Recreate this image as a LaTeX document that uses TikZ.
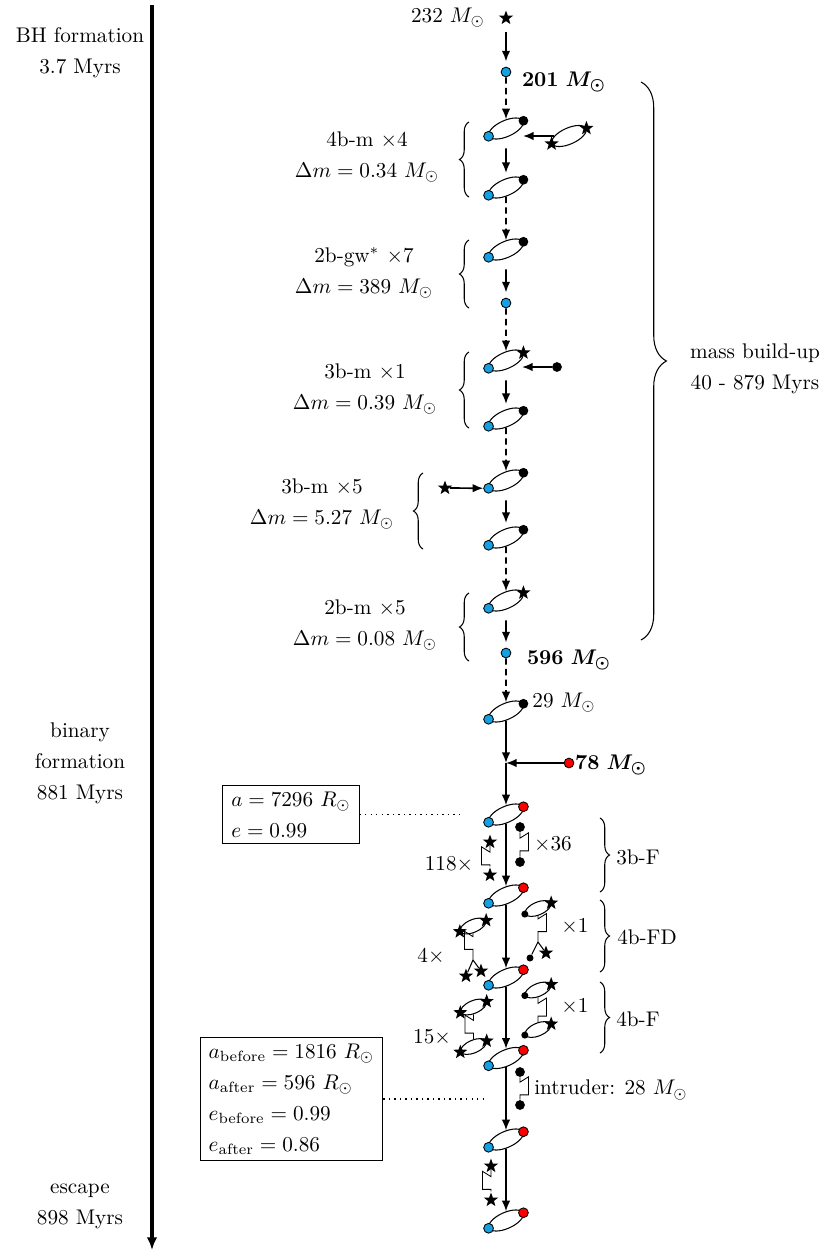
\documentclass[tikz,border=0pt]{standalone}
\usepackage{amsmath,amssymb}
\usetikzlibrary{arrows.meta,shapes.geometric,decorations.pathreplacing,calc}
\definecolor{bhblue}{RGB}{20,160,225}
\definecolor{mred}{RGB}{250,0,0}
\tikzset{
  lbl/.style={align=center, font=\fontsize{10}{14.6}\selectfont, inner sep=0pt},
  txt/.style={inner sep=0pt},
  bh/.style={circle, draw=black, line width=0.4pt, fill=bhblue, minimum size=4.6pt, inner sep=0pt},
  rd/.style={circle, draw=black, line width=0.4pt, fill=mred, minimum size=4.6pt, inner sep=0pt},
  bk/.style={circle, fill=black, minimum size=4.6pt, inner sep=0pt},
  sbk/.style={circle, fill=black, minimum size=3.3pt, inner sep=0pt},
  st/.style={star, star points=5, star point ratio=2.4, fill=black, minimum size=7pt, inner sep=0pt},
  ell/.style={ellipse, draw, line width=0.5pt, minimum width=17.5pt, minimum height=7.6pt, inner sep=0pt, rotate=24},
  sell/.style={ellipse, draw, line width=0.5pt, minimum width=13pt, minimum height=6pt, inner sep=0pt, rotate=23},
  pics/bin/.style 2 args={code={
     \node[ell] (-e) at (0,0) {};
     \node[#1] (-l) at (-e.west) {};
     \node[#2] (-r) at (-e.east) {};
  }},
  pics/sbin/.style 2 args={code={
     \node[sell] (-e) at (0,0) {};
     \node[#1] (-l) at (-e.west) {};
     \node[#2] (-r) at (-e.east) {};
  }},
  arr/.style={line width=0.8pt, -{Latex[length=5pt,width=4pt]}},
  sarr/.style={arr, shorten <=5pt, shorten >=2.5pt},
  darr/.style={arr, dash pattern=on 3pt off 2pt},
  lbrace/.style={decorate, decoration={brace, amplitude=4.5pt}, line width=0.5pt},
  bigbrace/.style={decorate, decoration={brace, amplitude=12pt}, line width=0.5pt},
  zig/.style={line width=0.5pt, to path={
     (\tikztostart) -- ($(\tikztostart)!0.5!(\tikztotarget)+(0pt,3pt)$)
     -- ++(#1,2.5pt) -- ++(0pt,-8.5pt) -- ++({-1*(#1)},0pt) -- (\tikztotarget)}},
  box/.style={draw, line width=0.5pt, align=left, font=\fontsize{10}{14.6}\selectfont, inner xsep=4pt, inner ysep=3pt},
}
\begin{document}
\begin{tikzpicture}[x=0.4717pt, y=-0.4717pt]
\useasboundingbox (0,0) rectangle (830,1253);

% timeline
\coordinate (tl0) at (152,5);
\coordinate (tl1) at (152,1250);
\draw[line width=1.5pt, -{Latex[length=6pt,width=5pt]}] (tl0) -- (tl1);
\node[lbl] (tBH) at (80,52.5) {BH formation\\3.7 Myrs};
\node[lbl] (tBF) at (80,763) {binary\\formation\\881 Myrs};
\node[lbl] (tES) at (80,1206) {escape\\898 Myrs};

% main column
\node[st] (S0) at (506,18) {};
\node[txt] (m232) at (448,18) {232 $M_\odot$};
\node[bh] (D1) at (506,72) {};
\node[txt] (m201) at (564,82) {$\mathbf{201}\ \boldsymbol{M_\odot}$};
\pic (B1) at (506,128.5) {bin={bh}{bk}};
\pic (IB) at (569,136) {bin={st}{st}};
\coordinate (t1) at (523,136);
\pic (B2) at (506,187.5) {bin={bh}{bk}};
\pic (B3) at (506,249.5) {bin={bh}{bk}};
\node[bh] (D2) at (506,303) {};
\pic (B4) at (506,360.5) {bin={bh}{st}};
\node[bk] (in4) at (557,367) {};
\coordinate (t4) at (522,367);
\pic (B5) at (506,418.5) {bin={bh}{bk}};
\pic (B6) at (506,480.5) {bin={bh}{bk}};
\node[st] (in6) at (445,488) {};
\pic (B7) at (506,537.5) {bin={bh}{bk}};
\pic (B8) at (506,600.5) {bin={bh}{st}};
\node[bh] (D3) at (506,653) {};
\node[txt] (m596) at (569,660) {$\mathbf{596}\ \boldsymbol{M_\odot}$};
\pic (B9) at (506,711.5) {bin={bh}{bk}};
\node[txt] (m29) at (564,703) {29 $M_\odot$};
\coordinate (J) at (506,763);
\node[rd] (R) at (569,763) {};
\node[txt] (m78) at (611,765) {$\mathbf{78}\ \boldsymbol{M_\odot}$};
\pic (B10) at (506,814.5) {bin={bh}{rd}};
\pic (B11) at (506,895.5) {bin={bh}{rd}};
\pic (B12) at (506,977.5) {bin={bh}{rd}};
\pic (B13) at (506,1058) {bin={bh}{rd}};
\pic (B14) at (506,1139.5) {bin={bh}{rd}};
\pic (B15) at (506,1220.5) {bin={bh}{rd}};

\draw[sarr] (S0) -- (D1);
\draw[darr] (D1) -- (B1-e);
\draw[sarr] (B1-e) -- (B2-e);
\draw[darr] (B2-e) -- (B3-e);
\draw[sarr] (B3-e) -- (D2);
\draw[darr] (D2) -- (B4-e);
\draw[sarr] (B4-e) -- (B5-e);
\draw[darr] (B5-e) -- (B6-e);
\draw[sarr] (B6-e) -- (B7-e);
\draw[darr] (B7-e) -- (B8-e);
\draw[sarr] (B8-e) -- (D3);
\draw[darr] (D3) -- (B9-e);
\draw[arr] (B9-e) -- (J);
\draw[arr] (R) -- (J);
\draw[arr] (J) -- (B10-e);
\draw[arr] (B10-e) -- (B11-e);
\draw[arr] (B11-e) -- (B12-e);
\draw[arr] (B12-e) -- (B13-e);
\draw[arr] (B13-e) -- (B14-e);
\draw[arr] (B14-e) -- (B15-e);
\draw[arr] (IB-e) -- (t1);
\draw[arr] (in4) -- (t4);
\draw[arr] (in6) -- (B6-l);

% left braces and labels
\node[lbl] (n1) at (367,157) {4b-m $\times 4$\\$\Delta m = 0.34\ M_\odot$};
\node[lbl] (n2) at (364,273) {2b-gw$^*$ $\times 7$\\$\Delta m = 389\ M_\odot$};
\node[lbl] (n3) at (365,389) {3b-m $\times 1$\\$\Delta m = 0.39\ M_\odot$};
\node[lbl] (n4) at (322,504) {3b-m $\times 5$\\$\Delta m = 5.27\ M_\odot$};
\node[lbl] (n5) at (365,625) {2b-m $\times 5$\\$\Delta m = 0.08\ M_\odot$};
\draw[lbrace] (469,197) -- (469,122);
\draw[lbrace] (469,308) -- (469,240);
\draw[lbrace] (469,428) -- (469,352);
\draw[lbrace] (423,549) -- (423,473);
\draw[lbrace] (469,661) -- (469,593);

% big brace
\draw[bigbrace] (641,82) -- (641,640);
\node[lbl] (mb) at (755,368.5) {mass build-up\\40 - 879 Myrs};

% right braces
\draw[lbrace] (600,818) -- (600,892);
\node[txt] (l3bF) at (638,857) {3b-F};
\draw[lbrace] (600,900) -- (600,972);
\node[txt] (l4bFD) at (647,937) {4b-FD};
\draw[lbrace] (600,982) -- (600,1053);
\node[txt] (l4bF) at (638,1019) {4b-F};

% 3b-F
\node[st] (s118a) at (490,842) {};
\node[st] (s118b) at (490,875) {};
\draw (s118a) to[zig=-4pt] (s118b);
\node[txt] (t118) at (449,865) {$118\times$};
\node[bk] (k36a) at (520,827) {};
\node[bk] (k36b) at (520,862) {};
\draw (k36a) to[zig=4pt] (k36b);
\node[txt] (t36) at (553,845) {$\times 36$};

% 4b-FD
\pic (LB1) at (473,926) {sbin={st}{st}};
\coordinate (F1) at (473,960);
\node[st] (f1a) at (466,976) {};
\node[st] (f1b) at (481,971) {};
\draw (LB1-e) to[zig=-4pt] (F1);
\draw[line width=0.5pt] (F1) -- (f1a);
\draw[line width=0.5pt] (F1) -- (f1b);
\node[txt] (t4x) at (431,957) {$4\times$};
\pic (RB1) at (538,908.5) {sbin={sbk}{st}};
\coordinate (F2) at (538,942);
\node[sbk] (f2a) at (530,958) {};
\node[st] (f2b) at (546,953) {};
\draw (RB1-e) to[zig=4pt] (F2);
\draw[line width=0.5pt] (F2) -- (f2a);
\draw[line width=0.5pt] (F2) -- (f2b);
\node[txt] (t1x) at (575,927) {$\times 1$};

% 4b-F
\pic (LB2) at (473.5,1007) {sbin={st}{st}};
\pic (LB3) at (473.5,1046.5) {sbin={st}{st}};
\draw (LB2-e) to[zig=-4pt] (LB3-e);
\node[txt] (t15) at (432,1038) {$15\times$};
\pic (RB2) at (538,990) {sbin={sbk}{st}};
\pic (RB3) at (538,1029.5) {sbin={sbk}{st}};
\draw (RB2-e) to[zig=4pt] (RB3-e);
\node[txt] (t1y) at (575,1007) {$\times 1$};

% intruder
\node[bk] (ia) at (520,1072) {};
\node[bk] (ib) at (520,1105) {};
\draw (ia) to[zig=4pt] (ib);
\node[txt] (tin) at (611,1090) {intruder: 28 $M_\odot$};

% bottom
\node[st] (ea) at (491,1166) {};
\node[st] (eb) at (491,1200) {};
\draw (ea) to[zig=-4pt] (eb);

% boxes
\node[box] (box1) at (291,814.5) {$a = 7296\ R_\odot$\\$e = 0.99$};
\coordinate (c1) at (463,814.5);
\draw[dotted, line width=0.6pt] (box1) -- (c1);
\node[box] (box2) at (291.5,1099) {$a_\text{before} = 1816\ R_\odot$\\$a_\text{after} = 596\ R_\odot$\\$e_\text{before} = 0.99$\\$e_\text{after} = 0.86$};
\coordinate (c2) at (483,1099);
\draw[dotted, line width=0.6pt] (box2) -- (c2);
\end{tikzpicture}
\end{document}
